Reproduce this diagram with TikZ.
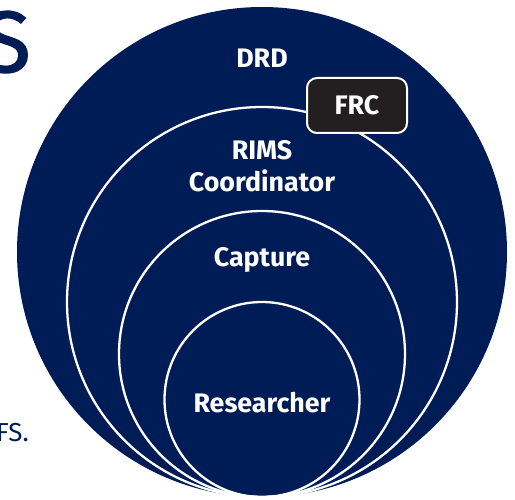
\documentclass[tikz,border=0pt]{standalone}
\usepackage{fontspec}
\setmainfont{Fira Sans}
\definecolor{navy}{RGB}{0,28,86}
\definecolor{frcfill}{RGB}{35,31,32}
\begin{document}
\begin{tikzpicture}[x=1pt,y=-1pt,
  ring/.style={draw=white,line width=2.3pt},
  lbl/.style={text=white,font=\fontsize{26.8}{30}\selectfont\bfseries,inner sep=0pt,anchor=base},
  frcbox/.style={fill=frcfill,draw=white,line width=2pt,rounded corners=10pt,
    minimum width=100pt,minimum height=55pt,inner sep=0pt,text=white,
    font=\fontsize{26.8}{30}\selectfont\bfseries}]
\useasboundingbox (0,0) rectangle (515,500);
\clip (0,0) rectangle (515,500);
% outer circle
\fill[navy] (262,252) circle[radius=245];
% rings
\draw[ring] (262,302) circle[radius=195];
\draw[ring] (262,354) circle[radius=143];
\draw[ring] (262,399.5) circle[radius=97.5];
% labels
\node[lbl] (drd) at (262,68) {DRD};
\node[lbl] (rims) at (262,160) {RIMS};
\node[lbl] (coord) at (262,192) {Coordinator};
\node[lbl] (capture) at (262,267) {Capture};
\node[lbl] (researcher) at (262,413) {Researcher};
\node[frcbox] (frc) at (357,105.5) {FRC};
% cut-off page text
\node[text=navy,font=\fontsize{87}{90}\selectfont\addfontfeature{FakeBold=1.5},inner sep=0pt,anchor=base east] (s) at (31,72) {S};
\node[text=navy,font=\fontsize{26}{30}\selectfont,inner sep=0pt,anchor=base east] (fs) at (29,441) {FS.};
\end{tikzpicture}
\end{document}
